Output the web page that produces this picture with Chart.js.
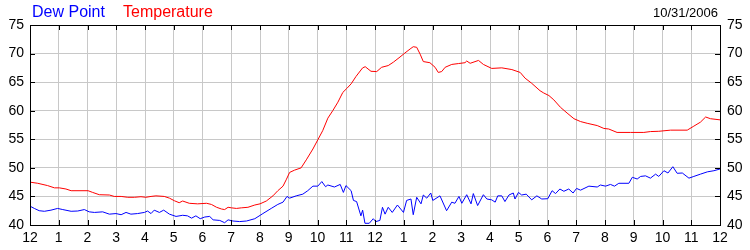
<!DOCTYPE html>
<html>
<head>
<meta charset="utf-8">
<script src="https://cdn.jsdelivr.net/npm/chart.js@4"></script>
<style>
  html, body { margin: 0; padding: 0; background: #fff; }
  #wrap { position: relative; width: 750px; height: 250px; }
  canvas { position: absolute; left: 0; top: 0; }
  .t { position: absolute; font-family: "Liberation Sans", Arial, sans-serif; white-space: nowrap; }
  #dew { left: 32px; top: 4px; font-size: 16px; line-height: 16px; color: #0000ff; }
  #temp { left: 123px; top: 4px; font-size: 16px; line-height: 16px; color: #ff0000; }
  #date { right: 32px; top: 6px; font-size: 13px; line-height: 13px; color: #000; }
</style>
</head>
<body>
<div id="wrap">
  <canvas id="c" width="750" height="250"></canvas>
  <span class="t" id="dew">Dew Point</span>
  <span class="t" id="temp">Temperature</span>
  <span class="t" id="date">10/31/2006</span>
</div>
<script>
const hourLabels = ['12','1','2','3','4','5','6','7','8','9','10','11','12','1','2','3','4','5','6','7','8','9','10','11','12'];
const yTicks = [40, 45, 50, 55, 60, 65, 70, 75];

const tempHours = [0.00,0.27,0.61,0.85,1.02,1.25,1.43,2.02,2.18,2.41,2.76,2.93,3.17,3.40,3.63,3.86,4.03,4.21,4.38,4.67,4.85,5.02,5.19,5.31,5.54,5.83,6.14,6.31,6.49,6.66,6.77,6.89,7.01,7.18,7.35,7.58,7.82,8.00,8.22,8.45,8.62,8.80,8.91,9.03,9.20,9.43,9.61,9.84,10.01,10.18,10.36,10.53,10.71,10.88,11.02,11.17,11.34,11.57,11.66,11.86,12.06,12.23,12.46,12.64,12.87,13.04,13.22,13.33,13.45,13.57,13.68,13.91,14.09,14.20,14.32,14.44,14.67,14.90,15.13,15.19,15.31,15.60,15.77,16.06,16.41,16.76,17.05,17.22,17.45,17.74,17.87,18.05,18.22,18.45,18.68,18.92,19.15,19.38,19.73,19.96,20.13,20.42,20.89,21.35,21.58,21.87,22.28,22.86,23.09,23.32,23.50,23.67,24.00];
const tempValues = [47.5,47.3,46.9,46.5,46.5,46.3,46.0,46.0,45.7,45.3,45.25,45.0,45.0,44.85,44.85,44.95,44.85,45.0,45.1,45.0,44.7,44.25,43.9,44.2,43.8,43.7,43.8,43.6,43.1,42.8,42.7,43.1,43.0,42.9,43.0,43.1,43.5,43.7,44.2,45.1,46.0,46.8,47.9,49.2,49.6,50.0,51.4,53.3,54.9,56.5,58.7,60.0,61.5,63.2,63.9,64.7,66.0,67.5,67.7,66.9,66.85,67.6,67.9,68.5,69.4,70.1,70.8,71.2,71.1,69.9,68.6,68.4,67.6,66.7,66.85,67.6,68.1,68.25,68.4,68.7,68.3,68.8,68.1,67.4,67.5,67.2,66.7,65.7,64.8,63.5,63.1,62.65,61.9,60.6,59.6,58.6,58.1,57.8,57.4,56.9,56.8,56.2,56.2,56.2,56.35,56.4,56.6,56.6,57.3,58.0,58.9,58.6,58.4];

const dewHours = [0.00,0.15,0.32,0.50,0.73,0.96,1.14,1.43,1.66,1.89,2.06,2.24,2.53,2.76,2.99,3.17,3.34,3.51,3.74,3.98,4.09,4.21,4.32,4.50,4.65,4.85,5.08,5.31,5.48,5.62,5.77,5.92,6.08,6.25,6.37,6.60,6.77,6.89,7.06,7.29,7.53,7.82,8.10,8.39,8.62,8.80,8.94,9.03,9.26,9.49,9.66,9.84,10.01,10.15,10.28,10.36,10.59,10.79,10.90,10.99,11.17,11.25,11.36,11.51,11.57,11.65,11.80,11.94,12.03,12.17,12.26,12.35,12.46,12.60,12.78,12.99,13.10,13.25,13.33,13.45,13.60,13.68,13.80,13.94,14.01,14.26,14.49,14.67,14.78,14.92,15.02,15.19,15.34,15.42,15.57,15.77,15.89,16.06,16.18,16.27,16.41,16.52,16.66,16.81,16.87,16.99,17.10,17.26,17.45,17.63,17.80,18.01,18.16,18.28,18.43,18.57,18.74,18.89,19.01,19.15,19.44,19.73,19.84,20.02,20.19,20.33,20.48,20.83,20.95,21.12,21.24,21.41,21.58,21.76,21.87,22.05,22.19,22.36,22.51,22.69,22.92,23.09,23.32,23.56,23.79,24.00];
const dewValues = [43.3,42.9,42.5,42.4,42.6,42.9,42.7,42.4,42.45,42.7,42.3,42.2,42.3,41.9,42.0,41.8,42.2,41.9,42.0,42.2,42.45,42.0,42.6,42.2,42.6,41.9,41.5,41.7,41.6,41.2,41.6,41.1,41.4,41.5,40.9,40.8,40.4,40.9,40.7,40.6,40.7,41.1,42.0,42.9,43.6,44.0,45.0,44.7,45.1,45.4,46.0,46.8,46.8,47.6,46.7,47.0,46.65,47.1,45.7,46.9,46.0,44.3,44.1,41.6,42.6,40.3,40.3,41.1,40.6,40.8,43.1,41.9,43.1,42.2,43.5,42.2,44.3,44.55,41.8,44.85,43.7,45.25,44.7,45.6,44.3,45.1,42.5,44.0,43.8,45.0,43.8,45.3,43.7,45.5,43.4,45.3,44.55,44.4,44.0,45.1,45.1,44.1,45.25,45.6,44.55,45.7,45.25,45.4,44.4,45.1,44.55,44.6,46.0,45.5,46.3,45.9,46.3,45.6,46.4,46.1,46.8,46.65,47.0,46.8,47.1,46.8,47.3,47.3,48.35,48.05,48.5,48.6,48.2,48.9,48.5,49.5,49.1,50.2,49.05,49.1,48.2,48.5,48.9,49.3,49.5,49.8];

const pts = (xs, ys) => xs.map((x, i) => ({ x: x, y: ys[i] }));

const FONT = { family: '"Liberation Sans", Arial, sans-serif', size: 14 };

const frame = {
  id: 'frame',
  afterDraw(chart) {
    const { ctx, chartArea: a, scales } = chart;
    ctx.save();
    ctx.strokeStyle = '#000';
    ctx.lineWidth = 1;
    ctx.beginPath();
    for (let h = 1; h < hourLabels.length - 1; h++) {
      const x = Math.round(scales.x.getPixelForValue(h)) + 0.5;
      ctx.moveTo(x, a.top); ctx.lineTo(x, a.top + 5);
      ctx.moveTo(x, a.bottom); ctx.lineTo(x, a.bottom - 5);
    }
    for (let i = 1; i < yTicks.length - 1; i++) {
      const y = Math.round(scales.y.getPixelForValue(yTicks[i])) + 0.5;
      ctx.moveTo(a.left, y); ctx.lineTo(a.left + 5, y);
      ctx.moveTo(a.right, y); ctx.lineTo(a.right - 5, y);
    }
    ctx.stroke();
    ctx.strokeRect(Math.round(a.left) + 0.5, Math.round(a.top) + 0.5,
                   Math.round(a.right - a.left), Math.round(a.bottom - a.top));
    ctx.restore();
  }
};

new Chart(document.getElementById('c'), {
  type: 'line',
  data: {
    datasets: [
      { label: 'Dew Point', data: pts(dewHours, dewValues), borderColor: '#0000ff', borderWidth: 1, pointRadius: 0, tension: 0, fill: false },
      { label: 'Temperature', data: pts(tempHours, tempValues), borderColor: '#ff0000', borderWidth: 1, pointRadius: 0, tension: 0, fill: false }
    ]
  },
  options: {
    responsive: false,
    animation: false,
    devicePixelRatio: 1,
    layout: { padding: { top: 25, left: 0, right: 0, bottom: 0 } },
    plugins: { legend: { display: false }, title: { display: false }, tooltip: { enabled: false } },
    scales: {
      x: {
        type: 'linear', min: 0, max: 24,
        afterFit: s => { s.height = 25; },
        afterBuildTicks: s => { s.ticks = hourLabels.map((_, i) => ({ value: i })); },
        ticks: { color: '#000', font: FONT, padding: 5, maxRotation: 0, autoSkip: false,
                 callback: (v) => hourLabels[Math.round(v)] },
        grid: { color: '#c8c8c8', drawTicks: false },
        border: { display: false }
      },
      y: {
        position: 'left', min: 40, max: 75,
        afterFit: s => { s.width = 30; },
        afterBuildTicks: s => { s.ticks = yTicks.map(v => ({ value: v })); },
        ticks: { color: '#000', font: FONT, padding: 6 },
        grid: { color: '#c8c8c8', drawTicks: false },
        border: { display: false }
      },
      y2: {
        position: 'right', min: 40, max: 75,
        afterFit: s => { s.width = 30; },
        afterBuildTicks: s => { s.ticks = yTicks.map(v => ({ value: v })); },
        ticks: { color: '#000', font: FONT, padding: 7 },
        grid: { display: false, drawTicks: false },
        border: { display: false }
      }
    }
  },
  plugins: [frame]
});
</script>
</body>
</html>
